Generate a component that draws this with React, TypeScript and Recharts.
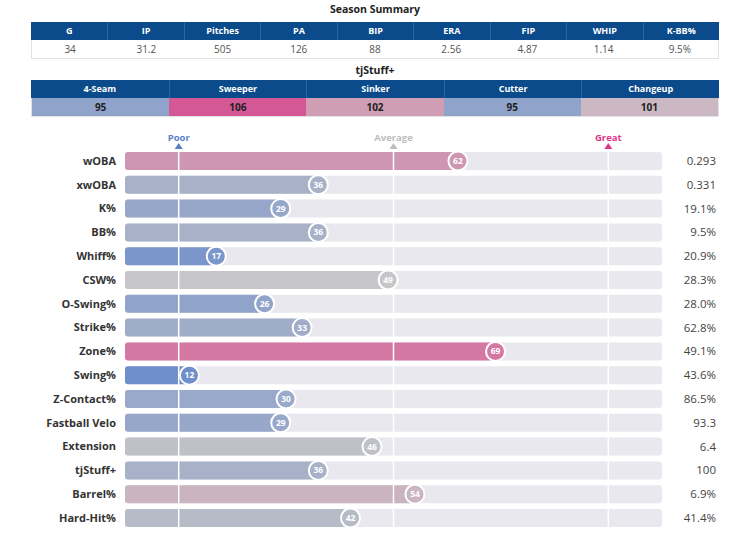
import { BarChart, Bar, XAxis, YAxis, Cell, LabelList, ReferenceLine } from 'recharts';

// Season line
const summaryHeaders = ['G', 'IP', 'Pitches', 'PA', 'BIP', 'ERA', 'FIP', 'WHIP', 'K-BB%'];
const summaryValues = ['34', '31.2', '505', '126', '88', '2.56', '4.87', '1.14', '9.5%'];

// tjStuff+ by pitch type
const pitchTypes = ['4-Seam', 'Sweeper', 'Sinker', 'Cutter', 'Changeup'];
const stuffScores = [95, 106, 102, 95, 101];

// Percentile rankings
const metrics = [
  'wOBA', 'xwOBA', 'K%', 'BB%', 'Whiff%', 'CSW%', 'O-Swing%', 'Strike%', 'Zone%',
  'Swing%', 'Z-Contact%', 'Fastball Velo', 'Extension', 'tjStuff+', 'Barrel%', 'Hard-Hit%',
];
const percentiles = [62, 36, 29, 36, 17, 49, 26, 33, 69, 12, 30, 29, 46, 36, 54, 42];
const metricValues = [
  '0.293', '0.331', '19.1%', '9.5%', '20.9%', '28.3%', '28.0%', '62.8%', '49.1%',
  '43.6%', '86.5%', '93.3', '6.4', '100', '6.9%', '41.4%',
];

const benchmarkLabels = ['Poor', 'Average', 'Great'];
const benchmarkPcts = [10, 50, 90];

const rows = metrics.map((metric, i) => ({
  metric,
  pct: percentiles[i],
  display: metricValues[i],
}));

const FONT = '"Open Sans", "Noto Sans", sans-serif';
const NAVY = '#0b4a8b';
const TRACK = '#e8e8ee';
const BENCH_COLORS = ['#5b7fc7', '#bdbdbd', '#e0368a'];

// row pitch in px, so the plot height follows the row count
const ROW_H = 23.8;

type Stop = [number, string];

const pctStops: Stop[] = [
  [0, '#5578c4'],
  [12, '#6f8fcb'],
  [29, '#97a7c9'],
  [49, '#c6c6c8'],
  [62, '#ce96b2'],
  [69, '#d478a3'],
  [100, '#e0287f'],
];

const stuffStops: Stop[] = [
  [85, '#5578c4'],
  [95, '#8fa3cb'],
  [100, '#c6c6c8'],
  [101, '#cbb8c3'],
  [102, '#cf9eb5'],
  [106, '#d45896'],
  [115, '#e0287f'],
];

function hexToRgb(h: string) {
  const n = parseInt(h.slice(1), 16);
  return [(n >> 16) & 255, (n >> 8) & 255, n & 255];
}

function scaleColor(stops: Stop[], v: number) {
  if (v <= stops[0][0]) return stops[0][1];
  for (let i = 1; i < stops.length; i++) {
    const [v1, c1] = stops[i];
    if (v <= v1) {
      const [v0, c0] = stops[i - 1];
      const t = (v - v0) / (v1 - v0);
      const a = hexToRgb(c0);
      const b = hexToRgb(c1);
      const m = a.map((x, k) => Math.round(x + (b[k] - x) * t));
      return `rgb(${m[0]},${m[1]},${m[2]})`;
    }
  }
  return stops[stops.length - 1][1];
}

const pctColor = (v: number) => scaleColor(pctStops, v);
const stuffColor = (v: number) => scaleColor(stuffStops, v);

// white-ringed bubble at the end of each bar
const PctBadge = (props: any) => {
  const { x, y, width, height, value } = props;
  const cx = x + width;
  const cy = y + height / 2;
  return (
    <g>
      <circle cx={cx} cy={cy} r={9.5} fill={pctColor(value)} stroke="#fff" strokeWidth={2} />
      <text
        x={cx}
        y={cy}
        dy="0.35em"
        textAnchor="middle"
        fill="#fff"
        fontSize={8.5}
        fontWeight={700}
        fontFamily={FONT}
      >
        {value}
      </text>
    </g>
  );
};

const RightTick = (props: any) => {
  const { x, y, payload } = props;
  return (
    <text
      x={x + 46}
      y={y}
      dy="0.35em"
      textAnchor="end"
      fill="#444"
      fontSize={11.5}
      fontFamily={FONT}
    >
      {payload.value}
    </text>
  );
};

const BenchLabel = (props: any) => {
  const { viewBox, text, color } = props;
  if (!viewBox) return null;
  const cx = viewBox.x;
  const top = viewBox.y;
  return (
    <g>
      <text
        x={cx}
        y={top - 8}
        textAnchor="middle"
        fill={color}
        fontSize={9.5}
        fontWeight={700}
        fontFamily={FONT}
      >
        {text}
      </text>
      <path d={`M${cx - 4},${top} L${cx + 4},${top} L${cx},${top - 6} Z`} fill={color} />
    </g>
  );
};

function Title({ text, top }: { text: string; top: number }) {
  return (
    <div
      style={{
        position: 'absolute',
        top,
        left: 0,
        width: 750,
        textAlign: 'center',
        fontSize: 10.5,
        fontWeight: 700,
        color: '#222',
        lineHeight: '16px',
      }}
    >
      {text}
    </div>
  );
}

function StatTable({
  top,
  headers,
  cells,
  cellBg,
  bold,
}: {
  top: number;
  headers: string[];
  cells: string[];
  cellBg?: (i: number) => string;
  bold?: boolean;
}) {
  const w = 688 / headers.length;
  return (
    <div style={{ position: 'absolute', top, left: 31, width: 688 }}>
      <div style={{ display: 'flex', background: NAVY }}>
        {headers.map((h, i) => (
          <div
            key={h}
            style={{
              width: w,
              height: 18,
              lineHeight: '18px',
              textAlign: 'center',
              color: '#fff',
              fontSize: 9,
              fontWeight: 700,
              boxSizing: 'border-box',
              borderLeft: i ? '1px solid #2d639f' : 'none',
            }}
          >
            {h}
          </div>
        ))}
      </div>
      <div style={{ display: 'flex', border: '1px solid #e2e2e2', borderTop: 'none' }}>
        {cells.map((c, i) => (
          <div
            key={i}
            style={{
              flex: 1,
              height: 18,
              lineHeight: '18px',
              textAlign: 'center',
              fontSize: 10,
              fontWeight: bold ? 700 : 400,
              color: bold ? '#222' : '#555',
              background: cellBg ? cellBg(i) : '#fff',
            }}
          >
            {c}
          </div>
        ))}
      </div>
    </div>
  );
}

export default function App() {
  const chartH = 29 + rows.length * ROW_H + 6;
  return (
    <div
      style={{
        position: 'relative',
        width: 750,
        height: 536,
        overflow: 'hidden',
        fontFamily: FONT,
        background: '#fff',
      }}
    >
      <style>{'body{margin:0}'}</style>
      <Title text="Season Summary" top={1} />
      <StatTable top={22} headers={summaryHeaders} cells={summaryValues} />
      <Title text="tjStuff+" top={62} />
      <StatTable
        top={80}
        headers={pitchTypes}
        cells={stuffScores.map(String)}
        cellBg={(i) => stuffColor(stuffScores[i])}
        bold
      />
      <div style={{ position: 'absolute', top: 120, left: 0 }}>
        <BarChart
          width={750}
          height={chartH}
          data={rows}
          layout="vertical"
          margin={{ top: 29, right: 0, bottom: 6, left: 0 }}
          barCategoryGap={0}
        >
          <XAxis type="number" domain={[0, 100]} hide />
          <YAxis
            yAxisId="left"
            type="category"
            dataKey="metric"
            width={125}
            axisLine={false}
            tickLine={false}
            tickMargin={3}
            interval={0}
            tick={{ fontSize: 11, fontWeight: 700, fill: '#333', fontFamily: FONT }}
          />
          <YAxis
            yAxisId="right"
            orientation="right"
            type="category"
            dataKey="display"
            width={88}
            axisLine={false}
            tickLine={false}
            interval={0}
            tick={<RightTick />}
          />
          <Bar
            yAxisId="left"
            dataKey="pct"
            barSize={18}
            radius={3}
            background={{ fill: TRACK, radius: 3 }}
            isAnimationActive={false}
          >
            {rows.map((r) => (
              <Cell key={r.metric} fill={pctColor(r.pct)} />
            ))}
            <LabelList dataKey="pct" content={PctBadge} />
          </Bar>
          {benchmarkPcts.map((p, i) => (
            <ReferenceLine
              key={p}
              yAxisId="left"
              x={p}
              stroke="#fff"
              strokeWidth={1.5}
              label={<BenchLabel text={benchmarkLabels[i]} color={BENCH_COLORS[i]} />}
            />
          ))}
        </BarChart>
      </div>
    </div>
  );
}
